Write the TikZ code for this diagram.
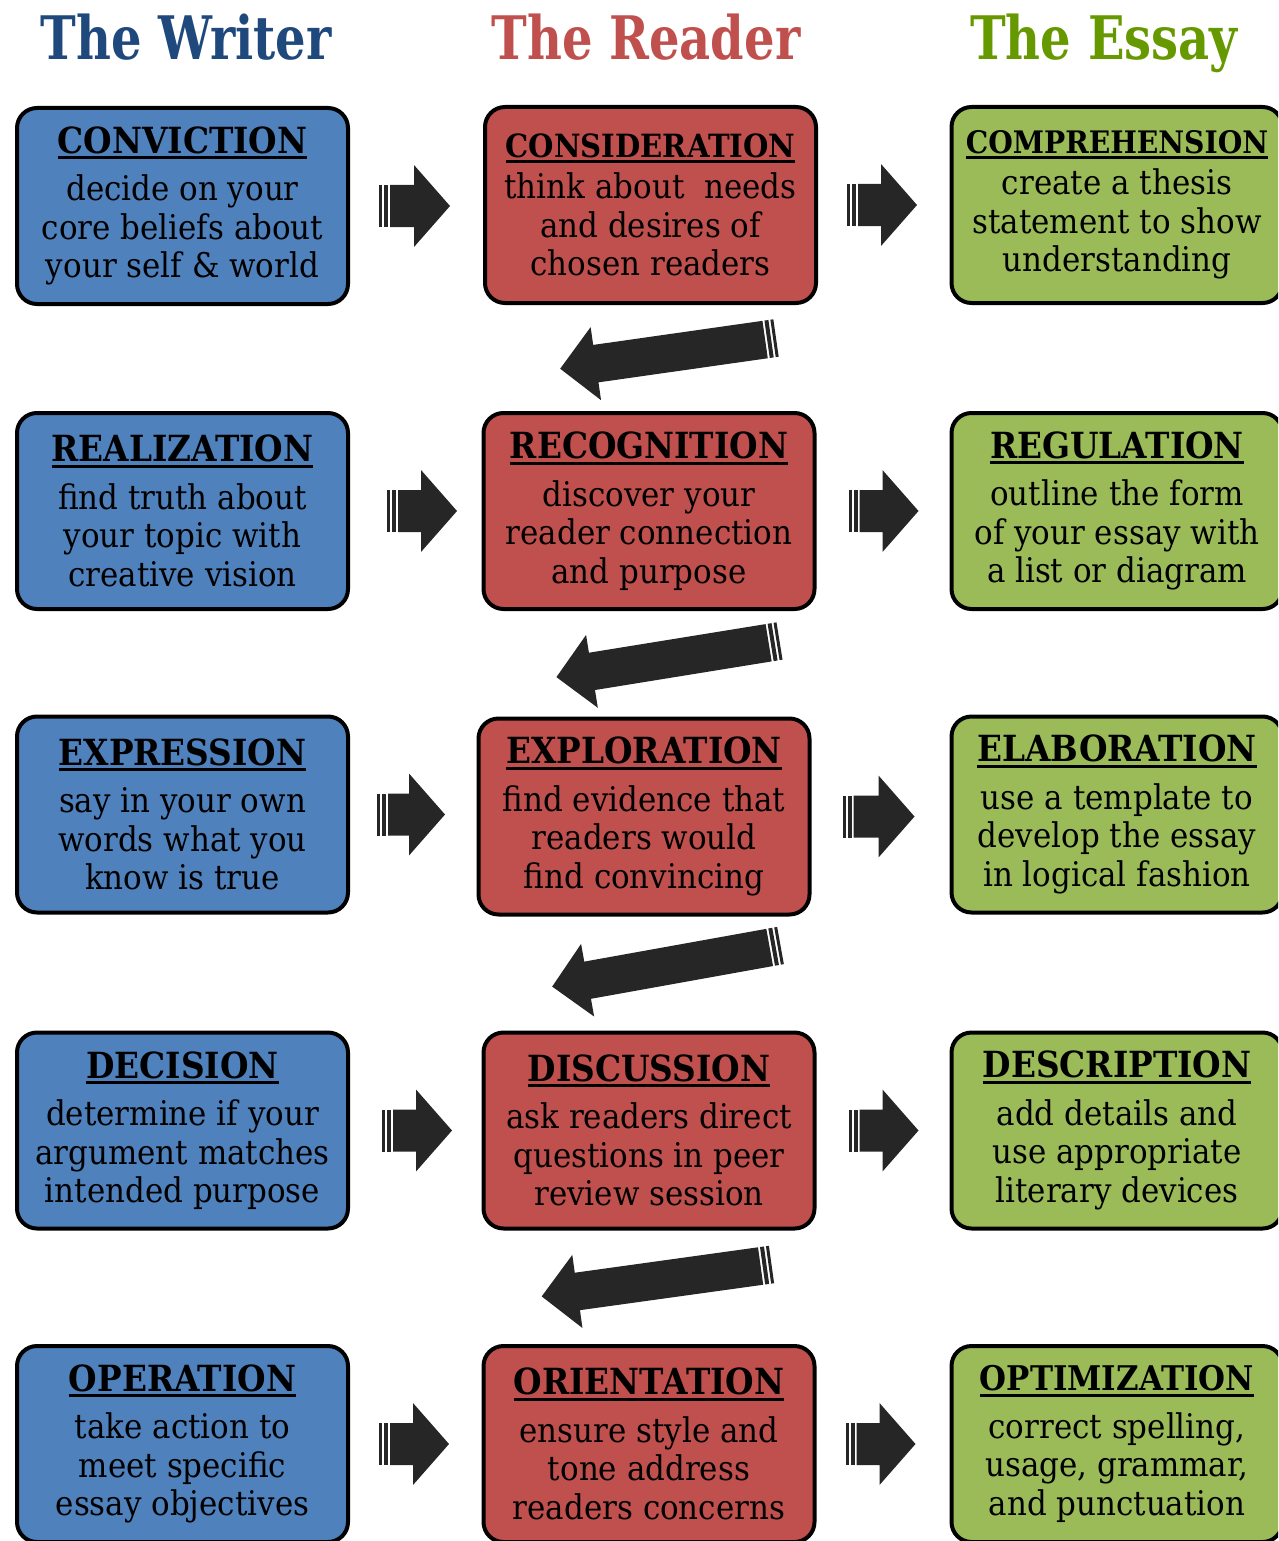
\documentclass[tikz,border=0pt]{standalone}
\usepackage{fontspec}
\setmainfont{DejaVu Serif}[FakeStretch=0.91]
\newfontfamily\headfont{DejaVu Serif}[FakeStretch=0.8]
\usetikzlibrary{positioning, calc}

\definecolor{writerblue}{HTML}{1F497D}
\definecolor{readerred}{HTML}{C0504D}
\definecolor{essaygreen}{HTML}{669900}
\definecolor{boxblue}{HTML}{4F81BD}
\definecolor{boxred}{HTML}{C0504D}
\definecolor{boxgreen}{HTML}{9BBB59}
\definecolor{arrowgray}{HTML}{262626}

% underlined stage title
\newcommand\stagetitle[2][36]{{\bfseries\fontsize{#1}{#1}\selectfont
  \setbox0\hbox{#2}\rlap{\rule[-6pt]{\wd0}{3pt}}\box0}}

\begin{document}
\begin{tikzpicture}[x=1pt, y=-1pt,
  stage/.style={draw=black, line width=4pt, rounded corners=20pt,
    minimum width=331pt, minimum height=196pt, inner sep=0pt,
    align=center, font=\fontsize{34}{38.5}\selectfont},
  writer/.style={stage, fill=boxblue},
  reader/.style={stage, fill=boxred},
  essay/.style={stage, fill=boxgreen},
  heading/.style={anchor=base, font=\headfont\bfseries\fontsize{60}{60}\selectfont},
  pics/fatarrow/.style={code={
    \fill[arrowgray] (0,-21) rectangle (3,21);
    \fill[arrowgray] (5,-21) rectangle (9,21);
    \fill[arrowgray] (11,-21) -- (#1-36,-21) -- (#1-36,-41) -- (#1,0)
      -- (#1-36,41) -- (#1-36,21) -- (11,21) -- cycle;
  }}]
\useasboundingbox (0,0) rectangle (1278,1541);
\clip (0,0) rectangle (1278,1541);

% column headings
\node[heading, text=writerblue] (hw) at (186,60) {The Writer};
\node[heading, text=readerred] (hr) at (646,60) {The Reader};
\node[heading, text=essaygreen] (he) at (1104,60) {The Essay};

% row 1
\node[writer] (w1) at (182.5,206) {\stagetitle{CONVICTION}\\[9pt]
  decide on your\\core beliefs about\\your self \& world};
\node[reader] (r1) at (650.5,205) {\stagetitle[32]{CONSIDERATION}\\[3pt]
  think about\ \ needs\\and desires of\\chosen readers};
\node[essay] (g1) at (1117,205) {\stagetitle[31]{COMPREHENSION}\\[3pt]
  create a thesis\\statement to show\\understanding};

% row 2
\node[writer] (w2) at (182.5,511) {\stagetitle{REALIZATION}\\[9pt]
  find truth about\\your topic with\\creative vision};
\node[reader] (r2) at (649,511) {\stagetitle{RECOGNITION}\\[9pt]
  discover your\\reader connection\\and purpose};
\node[essay] (g2) at (1117,511) {\stagetitle{REGULATION}\\[9pt]
  outline the form\\of your essay with\\a list or diagram};

% row 3
\node[writer] (w3) at (182.5,814.5) {\stagetitle{EXPRESSION}\\[9pt]
  say in your own\\words what you\\know is true};
\node[reader] (r3) at (644,816.5) {\stagetitle{EXPLORATION}\\[9pt]
  find evidence that\\readers would\\find convincing};
\node[essay] (g3) at (1117,814.5) {\stagetitle{ELABORATION}\\[9pt]
  use a template to\\develop the essay\\in logical fashion};

% row 4
\node[writer] (w4) at (182.5,1130.5) {\stagetitle{DECISION}\\[9pt]
  determine if your\\argument matches\\intended purpose};
\node[reader] (r4) at (649,1130.5) {\stagetitle{DISCUSSION}\\[9pt]
  ask readers direct\\questions in peer\\review session};
\node[essay] (g4) at (1117,1130.5) {\stagetitle{DESCRIPTION}\\[9pt]
  add details and\\use appropriate\\literary devices};

% row 5
\node[writer] (w5) at (182.5,1444) {\stagetitle{OPERATION}\\[9pt]
  take action to\\meet specific\\essay objectives};
\node[reader] (r5) at (649,1444) {\stagetitle{ORIENTATION}\\[9pt]
  ensure style and\\tone address\\readers concerns};
\node[essay] (g5) at (1117,1444) {\stagetitle[34]{OPTIMIZATION}\\[9pt]
  correct spelling,\\usage, grammar,\\and punctuation};

% arrows across each row
\pic at ($(w1.east)+(29,0)$) {fatarrow=71};
\pic at ($(r1.east)+(29,0)$) {fatarrow=70};
\pic at ($(w2.east)+(37,0)$) {fatarrow=70};
\pic at ($(r2.east)+(32,0)$) {fatarrow=70};
\pic at ($(w3.east)+(27,0)$) {fatarrow=68};
\pic at ($(r3.east)+(31,0)$) {fatarrow=72};
\pic at ($(w4.east)+(32,0)$) {fatarrow=70};
\pic at ($(r4.east)+(32,0)$) {fatarrow=70};
\pic at ($(w5.east)+(29,0)$) {fatarrow=70};
\pic at ($(r5.east)+(29,0)$) {fatarrow=70};

% arrows back down to the next reader box
\pic[rotate=188.1, yscale=.9] at ($(r1.south east)+(-42,33)$) {fatarrow=218};
\pic[rotate=189.2, yscale=.9] at ($(r2.south east)+(-37,30)$) {fatarrow=226};
\pic[rotate=190.2, yscale=.9] at ($(r3.south east)+(-31,29)$) {fatarrow=232};
\pic[rotate=187.9, yscale=.9] at ($(r4.south east)+(-45,34)$) {fatarrow=232};
\end{tikzpicture}
\end{document}
